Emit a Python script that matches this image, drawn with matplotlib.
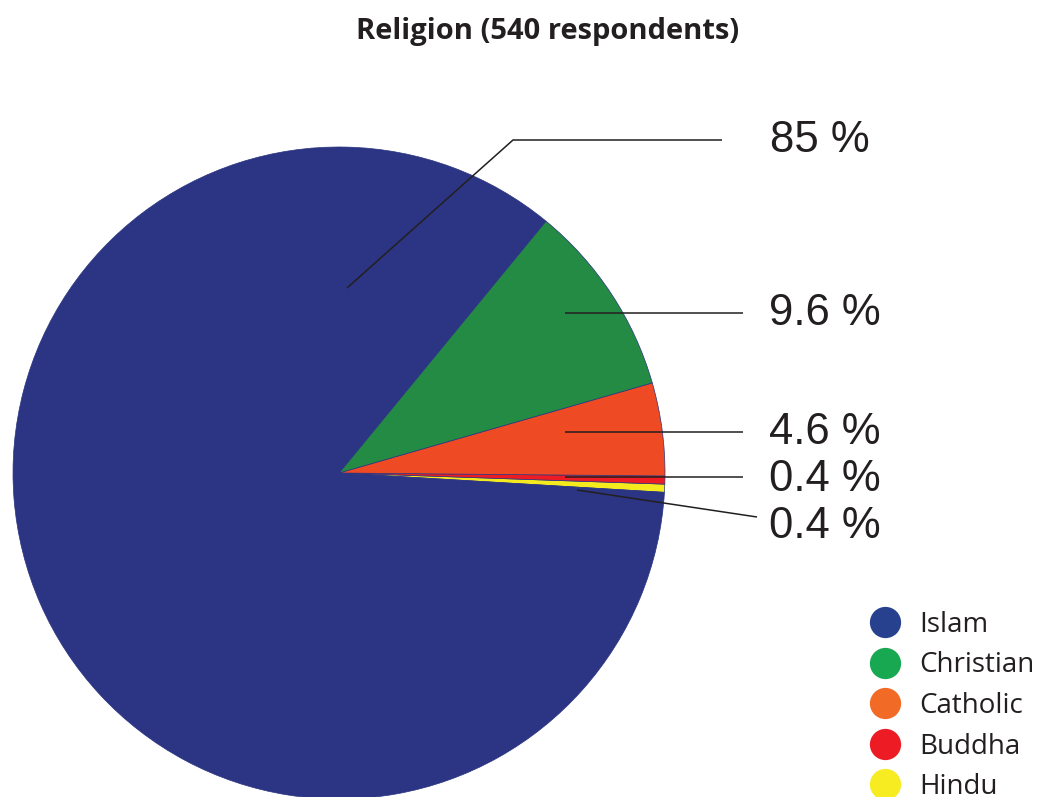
import matplotlib.pyplot as plt
from matplotlib.lines import Line2D

# religion breakdown, 540 respondents
religions = ['Islam', 'Christian', 'Catholic', 'Buddha', 'Hindu']
shares = [85, 9.6, 4.6, 0.4, 0.4]
pct_labels = ['85 %', '9.6 %', '4.6 %', '0.4 %', '0.4 %']

wedge_colors = ['#2b3583', '#238b43', '#ee4a24', '#ed1c24', '#f4ea1d']
legend_colors = ['#27418f', '#17a851', '#f26b26', '#ed1c24', '#f6ec21']

W, H = 1040, 797
cx, cy, R = 339, 473, 326


def px(x, y):
    # image pixel (top-left origin) -> axes data
    return x, H - y


fig = plt.figure(figsize=(W / 100, H / 100), dpi=100)
ax = fig.add_axes([0, 0, 1, 1])

# draw counterclockwise starting with the small slices just below 3 o'clock
order = [4, 3, 2, 1, 0]
vals = [shares[i] for i in order]
cols = [wedge_colors[i] for i in order]
ax.pie(vals, colors=cols, startangle=-3.4, counterclock=True,
       center=px(cx, cy), radius=R,
       wedgeprops=dict(edgecolor='#2a347f', linewidth=0.5))
ax.set_xlim(0, W)
ax.set_ylim(0, H)
ax.set_aspect('equal')
ax.axis('off')

# leader lines (pixel paths) and label anchors
leaders = [
    [(347, 288), (513, 140), (722, 140)],
    [(565, 313), (743, 313)],
    [(565, 432), (743, 432)],
    [(565, 477), (743, 477)],
    [(577, 490), (757, 517)],
]
label_pos = [(770, 140), (769, 313), (769, 432), (769, 479), (769, 526)]

for path, (tx, ty), lab in zip(leaders, label_pos, pct_labels):
    xs = [px(*p)[0] for p in path]
    ys = [px(*p)[1] for p in path]
    ax.plot(xs, ys, color='#231f20', lw=1.1, solid_capstyle='butt')
    ax.text(*px(tx, ty), lab, ha='left', va='center',
            fontsize=31.5, family='Liberation Sans', color='#231f20')

fig.text(548 / W, 1 - 31 / H, 'Religion (540 respondents)', ha='center',
         va='center', fontsize=21, fontweight='bold', family='Open Sans',
         color='#231f20')

handles = [Line2D([], [], ls='none', marker='o', markersize=22.5,
                  markerfacecolor=c, markeredgecolor='none')
           for c in legend_colors]
fig.legend(handles, religions, loc='upper left',
           bbox_to_anchor=(866 / W, 1 - 611 / H), frameon=False,
           prop=dict(family='Open Sans', size=20), borderpad=0,
           borderaxespad=0, handlelength=1.4, handletextpad=0.5,
           labelspacing=0.45, labelcolor='#231f20')

fig.savefig('out.png', dpi=100)
